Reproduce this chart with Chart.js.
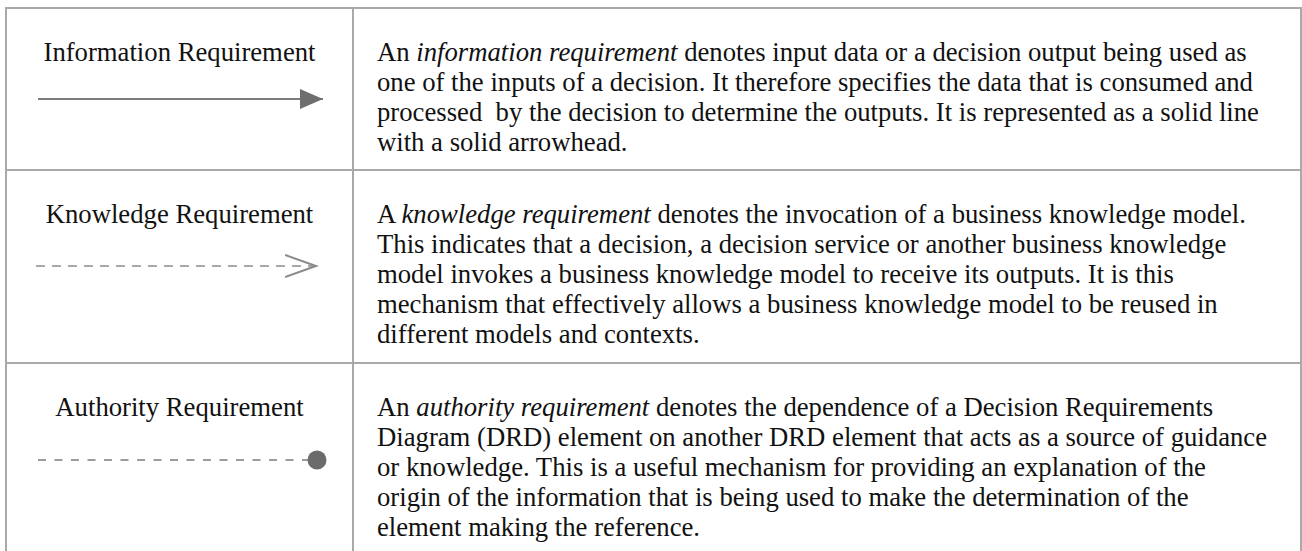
<!DOCTYPE html>
<html>
<head>
<meta charset="utf-8">
<script src="https://cdn.jsdelivr.net/npm/chart.js@4/dist/chart.umd.min.js"></script>
<style>
    html, body { margin: 0; padding: 0; background: #fff; }
    body { width: 1302px; height: 551px; overflow: hidden; position: relative;
           font-family: 'Liberation Serif', 'Times New Roman', serif;
           font-size: 26.7px; line-height: 30px; color: #111; }
    .hl, .vl { position: absolute; background: #a9a9a9; }
    .name { position: absolute; left: 7px; width: 345px; text-align: center;
            white-space: pre; }
    .desc { position: absolute; left: 377px; white-space: pre; }
    canvas.sym { position: absolute; left: 7px; }
</style>
</head>
<body>
<script>
// Connector kinds, top to bottom.
const connectorNames = [
    'Information Requirement',
    'Knowledge Requirement',
    'Authority Requirement',
];
// How each connector ends at its target.
const connectorEnds = ['filled-arrow', 'open-arrow', 'dot'];
// Each connector runs from its source (0) to its target (1).
const linkX = [0, 1];
const linkY = [0, 0];
// Description text, one entry per printed line; *...* is italic.
const descriptions = [
    [
        'An *information requirement* denotes input data or a decision output being used as',
        'one of the inputs of a decision. It therefore specifies the data that is consumed and',
        'processed  by the decision to determine the outputs. It is represented as a solid line',
        'with a solid arrowhead.',
    ],
    [
        'A *knowledge requirement* denotes the invocation of a business knowledge model.',
        'This indicates that a decision, a decision service or another business knowledge',
        'model invokes a business knowledge model to receive its outputs. It is this',
        'mechanism that effectively allows a business knowledge model to be reused in',
        'different models and contexts.',
    ],
    [
        'An *authority requirement* denotes the dependence of a Decision Requirements',
        'Diagram (DRD) element on another DRD element that acts as a source of guidance',
        'or knowledge. This is a useful mechanism for providing an explanation of the',
        'origin of the information that is being used to make the determination of the',
        'element making the reference.',
    ],
];

// Table geometry.
const rowTops = [7, 169, 362];
const textOffset = 30;
const symbolOffsets = [92, 97, 98];
const symbolPad = [[31, 29], [29, 36], [31, 35]];

function div(cls, css) {
    const d = document.createElement('div');
    d.className = cls;
    Object.assign(d.style, css);
    document.body.appendChild(d);
    return d;
}

// Grid lines.
for (const y of rowTops) div('hl', {left: '5px', top: `${y}px`, width: '1297px', height: '2px'});
for (const x of [5, 352, 1300]) div('vl', {left: `${x}px`, top: '7px', width: '2px', height: '560px'});

function escape(s) {
    return s.replace(/&/g, '&amp;').replace(/</g, '&lt;');
}

// Arrowhead images; the tip sits at the image centre so it lands on the
// target point.
function headCanvas(kind) {
    const len = kind === 'filled-arrow' ? 23 : 31;
    const h = kind === 'filled-arrow' ? 22 : 24;
    const c = document.createElement('canvas');
    c.width = 2 * len; c.height = h;
    const g = c.getContext('2d');
    g.beginPath();
    g.moveTo(0, 1);
    g.lineTo(len, h / 2);
    g.lineTo(0, h - 1);
    if (kind === 'filled-arrow') {
        g.closePath();
        g.fillStyle = '#6e6e6e';
        g.fill();
    } else {
        g.strokeStyle = '#8a8a8a';
        g.lineWidth = 2;
        g.stroke();
    }
    return c;
}

const lineStyle = {
    'filled-arrow': {color: '#7c7c7c', width: 2, dash: []},
    'open-arrow': {color: '#8c8c8c', width: 1.6, dash: [9, 7]},
    'dot': {color: '#9c9c9c', width: 2, dash: [8, 8.5]},
};

connectorNames.forEach((name, i) => {
    const top = rowTops[i];
    div('name', {top: `${top + textOffset}px`}).textContent = name;
    const d = div('desc', {top: `${top + textOffset}px`});
    d.innerHTML = descriptions[i]
        .map(l => escape(l).replace(/\*([^*]+)\*/g, '<i>$1</i>'))
        .join('\n');

    const end = connectorEnds[i];
    const st = lineStyle[end];
    const cv = document.createElement('canvas');
    cv.className = 'sym';
    cv.width = 345; cv.height = 40;
    cv.style.top = `${top + symbolOffsets[i] - 20}px`;
    document.body.appendChild(cv);
    const head = end === 'dot' ? 'circle' : headCanvas(end);
    const last = linkX.length - 1;

    new Chart(cv, {
        type: 'line',
        data: {
            datasets: [{
                data: linkX.map((x, k) => ({x, y: linkY[k]})),
                clip: false,
                borderColor: st.color,
                borderWidth: st.width,
                borderDash: st.dash,
                borderCapStyle: 'butt',
                pointStyle: c => c.dataIndex === last ? head : 'circle',
                pointRadius: c => c.dataIndex === last ? 9.5 : 0,
                pointBackgroundColor: '#6b6b6b',
                pointBorderWidth: 0,
            }],
        },
        options: {
            responsive: false,
            animation: false,
            events: [],
            layout: {padding: {left: symbolPad[i][0], right: symbolPad[i][1], top: 0, bottom: 0}},
            scales: {
                x: {type: 'linear', display: false, min: 0, max: 1},
                y: {type: 'linear', display: false, min: -1, max: 1},
            },
            plugins: {legend: {display: false}, tooltip: {enabled: false}},
        },
    });
});
</script>
</body>
</html>
